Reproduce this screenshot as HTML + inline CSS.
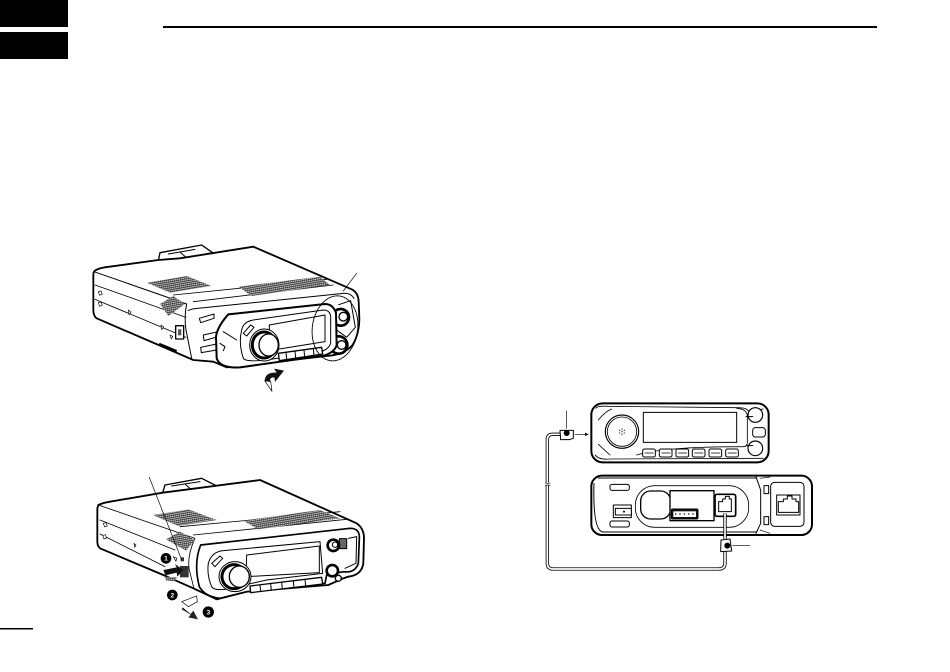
<!DOCTYPE html>
<html><head><meta charset="utf-8"><style>
html,body{margin:0;padding:0;background:#fff;width:950px;height:672px;overflow:hidden}
svg{display:block}
</style></head><body>
<svg width="950" height="672" viewBox="0 0 950 672" xmlns="http://www.w3.org/2000/svg">
<defs>
<pattern id="h" width="6" height="6" patternUnits="userSpaceOnUse" patternTransform="rotate(-10)">
<rect width="6" height="6" fill="#fff"/><rect width="6" height="3.6" fill="#444"/><rect width="2" height="6" fill="#444"/>
</pattern>
</defs>
<rect x="0" y="0" width="68" height="27" fill="#000"/>
<rect x="0" y="32" width="68" height="27" fill="#000"/>
<rect x="163" y="26" width="714" height="2" fill="#000"/>
<rect x="0" y="628" width="33" height="1.5" fill="#000"/>

<!-- Figure 1 -->
<g transform="translate(80,230) scale(.33333)" fill="#fff" stroke="#000" stroke-width="3" stroke-linejoin="round" stroke-linecap="round">
<path d="M235,92 L240,68 L365,45 L398,68 L300,90 Z" stroke-width="4"/>
<path d="M265,72 L345,58 M300,66 L320,84" fill="none"/>
<path d="M45,122 Q55,115 75,112 L235,90 L300,85 L520,50 L815,178 Q835,188 836,215 L838,265 Q838,310 818,345 Q790,375 740,378 L440,412 L400,395 L340,390 L50,265 Q40,258 40,240 L40,135 Q40,125 45,122 Z" stroke-width="5.5"/>
<path d="M42,125 L320,222 M325,242 Q330,238 345,236 L790,190 Q812,188 822,205" fill="none"/>
<path d="M45,165 L318,262 M45,208 L318,322" fill="none" stroke-width="2.5"/>
<path d="M320,222 Q312,260 318,300 L335,385" fill="none"/>
<path d="M340,215 L760,165 M280,195 L740,148" stroke-width="2.5" fill="none"/>
<polygon points="200,158 320,138 395,168 270,188" fill="url(#h)" stroke="none"/>
<polygon points="475,170 720,140 750,165 515,198" fill="url(#h)" stroke="none"/>
<polygon points="240,222 280,198 315,222 265,258" fill="url(#h)" stroke="none"/>
<path d="M55,185 l8,-2 l4,10 l-8,3 Z M55,218 l8,-2 l4,10 l-8,3 Z M145,240 l8,6 l-6,8 Z M243,285 l8,6 l-6,8 Z M270,315 l8,4 l-4,8 Z" stroke-width="2"/>
<rect x="287" y="287" width="24" height="40" fill="#fff" stroke-width="4"/>
<rect x="294" y="298" width="10" height="18" fill="#555" stroke="none"/>
<path d="M240,342 L288,362" stroke-width="6" stroke-dasharray="3 2" fill="none"/>
<path d="M358,265 L402,252 L402,265 L362,278 Z M370,315 L415,305 L415,320 L372,332 Z M362,352 L410,342 L410,360 L364,368 Z"/>
<path d="M776,224 L812,212 L826,292 L800,322 L770,300" fill="none" stroke-width="3"/>
<circle cx="782" cy="262" r="25" fill="#fff" stroke-width="8" stroke-dasharray="4 2.5"/>
<circle cx="790" cy="260" r="13" fill="#fff" stroke-width="4"/>
<circle cx="776" cy="345" r="26" fill="#fff" stroke-width="8" stroke-dasharray="4 2.5"/>
<circle cx="785" cy="345" r="13" fill="#fff" stroke-width="4"/>
<path d="M445,253 L735,222 Q758,222 768,248 L770,345 Q765,365 735,376 L480,412 Q420,416 410,385 L408,320 Q412,290 445,253 Z" stroke-width="6"/>
<path d="M485,300 Q490,275 520,270 L730,240 Q750,240 752,260 L752,340 Q745,360 720,365 L590,385 Q500,400 490,385 Q475,340 485,300 Z" fill="none"/>
<path d="M430,305 L470,330 M420,340 L435,350 L430,362 M490,310 L512,285 L522,292 L500,318 Z" fill="none"/>
<polygon points="568,285 735,255 735,335 568,362" stroke-width="3"/>
<ellipse cx="553" cy="345" rx="44" ry="48" fill="#fff" stroke-width="3"/>
<ellipse cx="552" cy="345" rx="35" ry="39" fill="#fff" stroke-width="9" stroke-dasharray="4 2.5"/>
<ellipse cx="566" cy="345" rx="29" ry="33" fill="#fff" stroke-width="4"/>
<path d="M595,370 L725,352 L728,372 L598,392 Z" stroke-width="4"/>
<path d="M618,367 L620,388 M645,364 L647,385 M672,360 L674,381 M700,356 L702,377" fill="none"/>
<ellipse cx="765" cy="295" rx="68" ry="98" transform="rotate(8 765 295)" fill="none" stroke-width="3" stroke-dasharray="3 3"/>
<path d="M830,130 L790,183" fill="none" stroke-width="2"/>
<path d="M576,484 L554,452 Q556,425 590,428 L582,416 L612,422 L585,456 L583,442 Q566,442 572,455 Z" fill="#111" stroke="none"/>
<path d="M576,484 L554,452 L572,455 Z" fill="#fff" stroke-width="2"/>
</g>

<!-- Figure 2 -->
<g transform="translate(80,460) scale(.33333)" fill="#fff" stroke="#000" stroke-width="3" stroke-linejoin="round" stroke-linecap="round">
<path d="M248,98 L255,75 L365,55 L410,78 L320,95 Z" stroke-width="4"/>
<path d="M275,78 L360,65 M315,72 L335,90" fill="none"/>
<path d="M55,135 Q70,128 90,125 L248,98 L540,60 L830,190 Q852,205 852,235 L850,310 Q845,345 805,350 L790,355 L745,375 L500,395 L410,418 L340,385 L250,345 L60,265 Q52,258 52,245 L52,145 Z" stroke-width="5.5"/>
<path d="M55,135 L345,235 M60,180 L285,270 M60,222 L255,320 M345,235 Q320,290 328,330 L342,386" fill="none" stroke-width="2.5"/>
<path d="M300,200 L780,155 M340,225 L800,178" stroke-width="2.5" fill="none"/>
<polygon points="218,165 325,148 410,180 295,198" fill="url(#h)" stroke="none"/>
<polygon points="490,182 720,150 780,175 535,208" fill="url(#h)" stroke="none"/>
<polygon points="258,238 300,215 345,240 318,272" fill="url(#h)" stroke="none"/>
<path d="M70,190 l8,-2 l4,10 l-8,3 Z M68,226 l8,-2 l4,10 l-8,3 Z M162,250 l6,6 l-4,6 Z" stroke-width="2"/>
<path d="M280,290 l10,4 l-2,10 Z" stroke-width="2"/>
<rect x="300" y="318" width="26" height="34" fill="#333" stroke="none"/>
<rect x="302" y="292" width="10" height="12" fill="#333" stroke="none"/>
<path d="M362,255 L810,205 Q840,205 838,235 L835,310 Q825,340 790,335 L740,345 L735,370 L500,395 L420,415 Q375,410 358,380 Q340,310 362,255 Z" stroke-width="5"/>
<path d="M385,310 Q395,275 430,272 L720,245 L728,340 L560,360 L450,385 Q405,395 395,380 Q380,345 385,310 Z" fill="none"/>
<polygon points="500,285 718,258 718,338 498,350" stroke-width="3"/>
<path d="M395,310 L420,288 L428,295 L405,320 Z"/>
<ellipse cx="465" cy="350" rx="48" ry="45" fill="#fff" stroke-width="3"/>
<ellipse cx="462" cy="350" rx="36" ry="36" fill="#fff" stroke-width="9" stroke-dasharray="4 2.5"/>
<ellipse cx="478" cy="350" rx="30" ry="32" fill="#fff" stroke-width="4"/>
<path d="M510,378 L725,352 L728,372 L512,398 Z" stroke-width="4"/>
<path d="M540,375 L542,395 M572,371 L574,391 M605,367 L607,387 M640,363 L642,383 M675,359 L677,379" fill="none"/>
<path d="M805,235 L830,230 L828,310 L795,325" fill="none"/>
<rect x="778" y="236" width="22" height="30" fill="#666" stroke-width="3"/>
<circle cx="760" cy="256" r="17" fill="#fff" stroke-width="8" stroke-dasharray="4 2.5"/>
<circle cx="765" cy="254" r="8" fill="#fff" stroke-width="3"/>
<circle cx="757" cy="332" r="17" fill="#fff" stroke-width="8" stroke-dasharray="4 2.5"/>
<circle cx="775" cy="355" r="9" fill="#fff" stroke-width="4"/>
<path d="M208,52 L305,300" fill="none" stroke-width="2"/>
<polygon points="250,330 290,322 285,312 310,330 292,350 290,338 256,346" fill="#111" stroke="none"/>
<path d="M255,350 L290,352 L285,364 L258,362 Z" fill="url(#h)" stroke="none"/>
<circle cx="258" cy="295" r="16" fill="#000" stroke="none"/>
<circle cx="277" cy="405" r="16" fill="#000" stroke="none"/>
<circle cx="385" cy="456" r="17" fill="#000" stroke="none"/>
<text x="258" y="302" font-family="Liberation Sans, sans-serif" font-size="20" font-weight="bold" fill="#fff" stroke="none" text-anchor="middle">1</text>
<text x="277" y="412" font-family="Liberation Sans, sans-serif" font-size="20" font-weight="bold" fill="#fff" stroke="none" text-anchor="middle">2</text>
<text x="385" y="463" font-family="Liberation Sans, sans-serif" font-size="20" font-weight="bold" fill="#fff" stroke="none" text-anchor="middle">3</text>
<path d="M305,425 L350,408 L352,425 L325,440 Z" stroke-width="2"/>
<path d="M308,442 L332,462 L340,452 L354,478 L325,472 L332,464 L305,448 Z" fill="#222" stroke="none"/>
</g>

<!-- Figure 3 -->
<g transform="translate(530,395) scale(.33333)" fill="#fff" stroke="#000" stroke-width="3" stroke-linejoin="round" stroke-linecap="round">
<rect x="184" y="25" width="532" height="177" rx="34" stroke-width="6"/>
<path d="M198,40 Q200,32 235,34 L625,38 Q650,38 655,48 L700,42 M196,180 Q205,195 240,192 L700,190" fill="none" stroke-width="2.5"/>
<path d="M205,75 Q225,50 245,42 M205,148 L240,180 M320,180 Q400,155 640,155 Q652,155 652,142 L652,70 Q655,42 620,40" fill="none" stroke-width="2.5"/>
<rect x="340" y="52" width="280" height="90" stroke-width="3"/>
<circle cx="276" cy="110" r="50" fill="#fff" stroke-width="3.5"/>
<circle cx="276" cy="110" r="44" fill="#fff" stroke-width="2.5"/>
<g fill="#333" stroke="none"><circle cx="276" cy="102" r="2"/><circle cx="269" cy="106" r="2"/><circle cx="283" cy="106" r="2"/><circle cx="276" cy="110" r="2"/><circle cx="269" cy="114" r="2"/><circle cx="283" cy="114" r="2"/><circle cx="276" cy="118" r="2"/></g>
<g stroke-width="3"><rect x="338" y="162" width="38" height="24" rx="5"/><rect x="388" y="162" width="38" height="24" rx="5"/><rect x="438" y="162" width="38" height="24" rx="5"/><rect x="487" y="162" width="38" height="24" rx="5"/><rect x="537" y="162" width="38" height="24" rx="5"/><rect x="587" y="162" width="38" height="24" rx="5"/></g>
<path d="M345,174 H370 M395,174 H420 M445,174 H470 M494,174 H519 M544,174 H569 M594,174 H619" stroke-width="2"/>
<circle cx="676" cy="60" r="22" stroke-width="3.5"/>
<circle cx="676" cy="160" r="22" stroke-width="3.5"/>
<path d="M648,65 H668 M648,152 H668" stroke-width="3"/>
<rect x="668" y="98" width="38" height="28" rx="8" stroke-width="3"/>

<rect x="184" y="242" width="662" height="178" rx="32" stroke-width="6"/>
<path d="M192,265 Q188,405 218,411 L680,411 M205,249 L680,249" fill="none" stroke-width="3"/>
<path d="M678,245 L692,285 L692,385 L678,415" fill="none" stroke-width="3"/>
<rect x="702" y="272" width="14" height="24" stroke-width="3"/>
<rect x="702" y="365" width="14" height="24" stroke-width="3"/>
<path d="M690,250 L720,246 M690,405 L720,415" fill="none" stroke-width="2"/>
<rect x="722" y="262" width="100" height="132" rx="12" stroke-width="3"/>
<rect x="740" y="300" width="70" height="60" fill="#fff" stroke-width="3"/>
<path d="M745,320 H760 V312 H772 V303 H786 V312 H798 V320 H806 V352 H745 Z" stroke-width="3"/>
<rect x="240" y="268" width="58" height="18" rx="6" stroke-width="3"/>
<rect x="240" y="378" width="58" height="18" rx="6" stroke-width="3"/>
<rect x="250" y="330" width="54" height="38" stroke-width="3"/>
<rect x="256" y="340" width="48" height="20" stroke-width="3"/>
<circle cx="282" cy="350" r="1.5" fill="#000"/>
<rect x="316" y="272" width="340" height="125" rx="58" stroke-width="2.5"/>
<rect x="332" y="288" width="90" height="84" rx="30" stroke-width="4"/>
<rect x="420" y="287" width="132" height="90" stroke-width="4"/>
<rect x="424" y="342" width="80" height="30" rx="4" fill="#111" stroke="#000"/>
<rect x="430" y="349" width="68" height="17" fill="#fff" stroke="none"/>
<g fill="#333" stroke="none"><circle cx="437" cy="357" r="2.5"/><circle cx="450" cy="357" r="2.5"/><circle cx="463" cy="357" r="2.5"/><circle cx="476" cy="357" r="2.5"/><circle cx="489" cy="357" r="2.5"/></g>
<rect x="555" y="298" width="62" height="66" rx="6" stroke-width="5"/>
<path d="M566,320 H578 V312 H586 V304 H598 V312 H604 V350 H566 Z" stroke-width="3"/>

<path d="M100,118 H68 Q52,118 52,134 V505 Q52,522 70,522 H565 Q585,522 585,505 V470" fill="none" stroke="#000" stroke-width="10" stroke-linecap="butt"/>
<path d="M100,118 H68 Q52,118 52,134 V505 Q52,522 70,522 H565 Q585,522 585,505 V470" fill="none" stroke="#fff" stroke-width="5" stroke-linecap="butt"/>
<path d="M585,355 V432" fill="none" stroke="#000" stroke-width="10" stroke-linecap="butt"/>
<path d="M585,355 V432" fill="none" stroke="#fff" stroke-width="5" stroke-linecap="butt"/>
<rect x="40" y="263" width="26" height="9" fill="#fff" stroke="none"/>
<path d="M46,264 Q52,268 60,264 M46,272 Q52,268 60,272" fill="none" stroke-width="2"/>
<path d="M90,106 H130 V130 L118,134 H92 Z" stroke-width="3"/>
<circle cx="110" cy="114" r="9" fill="#000" stroke="none"/>
<path d="M110,48 V100" fill="none" stroke-width="2"/>
<path d="M135,118 H168" fill="none" stroke-width="2"/>
<polygon points="176,118 165,113 165,123" fill="#000" stroke="none"/>
<path d="M573,435 L600,432 L605,468 L572,470 Z" stroke-width="3"/>
<circle cx="592" cy="452" r="9" fill="#000" stroke="none"/>
<path d="M608,452 H660" fill="none" stroke-width="2"/>
</g>
</svg>
</body></html>
